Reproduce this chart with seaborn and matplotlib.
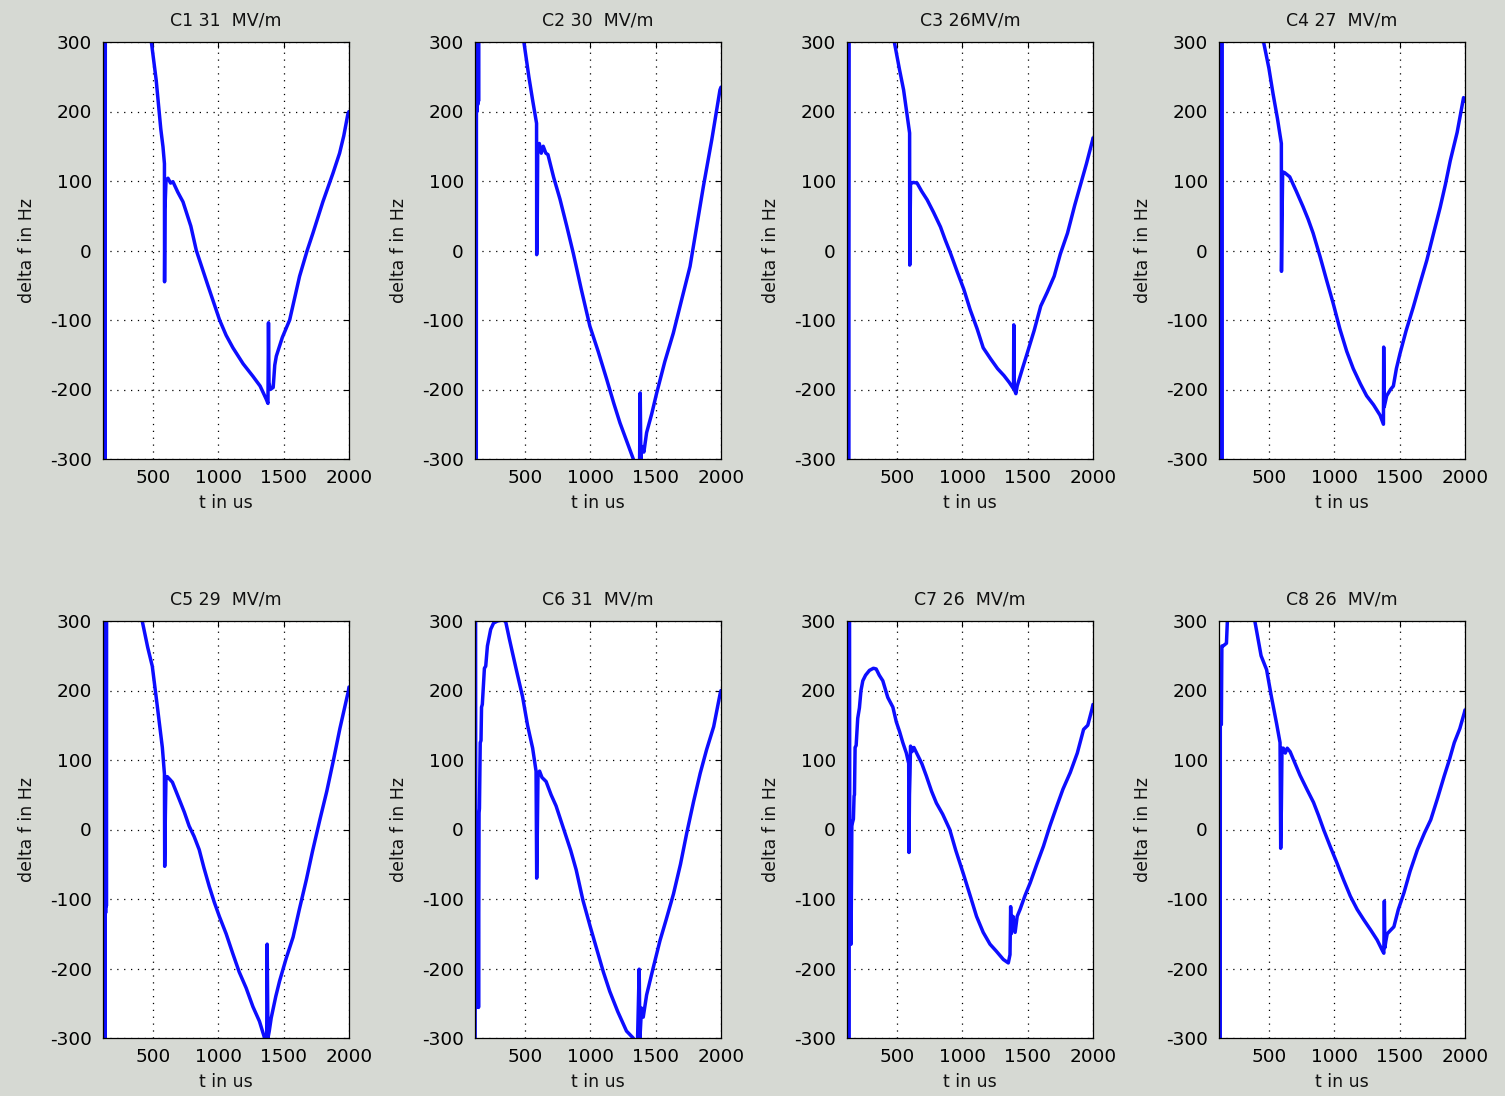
import matplotlib
matplotlib.use("Agg")
import matplotlib.pyplot as plt
import pandas as pd
import seaborn as sns

# Cavity detuning traces, delta f (Hz) versus time (us), one panel per cavity
titles = ["C1 31  MV/m", "C2 30  MV/m", "C3 26MV/m", "C4 27  MV/m",
          "C5 29  MV/m", "C6 31  MV/m", "C7 26  MV/m", "C8 26  MV/m"]

c1_t = [118, 124, 127, 130, 133, 137, 488, 525, 560, 577, 588, 589, 592, 600, 615, 635, 653, 690,
        730, 790, 832, 920, 1010, 1060, 1112, 1190, 1265, 1320, 1367, 1380, 1384, 1388, 1398, 1420,
        1432, 1444, 1490, 1546, 1622, 1680, 1724, 1800, 1877, 1928, 1960, 1992, 2000]
c1_df = [-700, 700, -700, 700, -700, 800, 300, 245, 175, 149, 125, -45, 60, 100, 104, 97, 99, 84,
         70, 35, 0, -50, -100, -122, -140, -163, -181, -195, -214, -220, -104, -190, -200, -197,
         -165, -152, -125, -100, -37, 0, 25, 70, 111, 140, 165, 197, 200]

c2_t = [118, 124, 127, 130, 133, 136, 139, 142, 145, 148, 492, 530, 560, 589, 590, 594, 598, 610,
        625, 640, 660, 676, 720, 768, 820, 870, 930, 997, 1060, 1125, 1180, 1227, 1280, 1329, 1376,
        1382, 1387, 1395, 1410, 1431, 1470, 1508, 1570, 1635, 1700, 1763, 1810, 1865, 1930, 1992,
        2000]
c2_df = [-700, 700, -700, 700, 200, 700, 210, 700, 215, 800, 300, 250, 215, 183, -6, 30, 150, 154,
         140, 150, 140, 138, 105, 74, 35, -4, -55, -109, -145, -185, -220, -248, -275, -300, -325,
         -205, -300, -282, -290, -262, -235, -205, -160, -119, -70, -23, 30, 92, 160, 231, 235]

c3_t = [118, 125, 130, 136, 140, 480, 520, 551, 597, 598, 601, 604, 625, 654, 690, 731, 780, 833,
        870, 910, 960, 1012, 1060, 1114, 1160, 1217, 1270, 1319, 1360, 1392, 1394, 1398, 1410, 1420,
        1460, 1498, 1550, 1600, 1650, 1703, 1750, 1805, 1860, 1908, 1950, 1997, 2000]
c3_df = [-700, 700, -700, 700, 800, 300, 260, 231, 169, -21, 40, 96, 98, 97, 85, 73, 55, 34,
         15, -4, -30, -56, -85, -113, -140, -156, -170, -180, -190, -199, -107, -200, -206, -195,
         -170, -147, -115, -80, -60, -37, -5, 25, 65, 97, 125, 159, 162]

c4_t = [118, 124, 127, 130, 133, 136, 139, 142, 459, 500, 531, 565, 595, 596, 600, 605, 620, 659,
        710, 761, 800, 838, 890, 940, 990, 1043, 1095, 1145, 1200, 1247, 1300, 1350, 1376, 1378,
        1382, 1401, 1430, 1452, 1475, 1503, 1550, 1605, 1655, 1708, 1760, 1810, 1850, 1887, 1940,
        1989, 2000]
c4_df = [-700, 700, -700, 700, -700, 700, -700, 800, 300, 262, 226, 190, 154, -30, 40, 113, 112, 106,
         85, 63, 45, 25, -8, -42, -75, -113, -145, -170, -192, -209, -222, -237, -250, -139,
         -225, -209, -200, -195, -170, -148, -115, -81, -48, -14, 25, 62, 95, 129, 170,
         220, 215]

c5_t = [118, 123, 126, 129, 132, 135, 138, 141, 144, 147, 418, 460, 495, 535, 572, 588, 590, 595,
        600, 610, 630, 649, 700, 740, 777, 815, 854, 890, 931, 970, 1008, 1060, 1110, 1160, 1213,
        1265, 1315, 1354, 1370, 1374, 1380, 1390, 1405, 1440, 1469, 1520, 1572, 1620, 1674, 1720,
        1777, 1830, 1879, 1930, 1995, 2000]
c5_df = [-700, 700, -700, 700, -700, 700, -120, 700, -110, 800, 300, 262, 235, 175, 118, 80, -53, 20,
         76, 76, 72, 68, 44, 25, 5, -10, -29, -55, -82, -105, -125, -150, -178, -205, -228,
         -255, -276, -300, -310, -165, -300, -290, -271, -240, -218, -185, -155, -115, -72, -32,
         14, 55, 98, 145, 199, 205]

c6_t = [118, 121, 124, 127, 131, 134, 137, 141, 145, 149, 152, 158, 164, 168, 174, 190, 200, 213,
        238, 260, 290, 340, 354, 380, 405, 440, 482, 520, 559, 585, 590, 595, 600, 612, 630, 662,
        700, 738, 780, 815, 850, 892, 944, 1000, 1046, 1100, 1149, 1210, 1277, 1328, 1360, 1374,
        1380, 1392, 1405, 1431, 1480, 1533, 1580, 1636, 1690, 1738, 1790, 1841, 1890, 1944, 1995,
        2000]
c6_df = [-700, 700, -100, -256, 20, -200, -90, 15, -256, 24, 30, 125, 128, 176, 180, 232, 235, 264,
         288, 297, 300, 302, 298, 275, 254, 225, 191, 150, 117, 84, -70, 0, 80, 84, 75, 69,
         50, 34, 10, -10, -30, -58, -102, -140, -170, -205, -233, -262, -290, -300, -315, -201,
         -300, -257, -270, -238, -200, -160, -130, -93, -50, -5, 40, 81, 115, 148, 197,
         200]

c7_t = [118, 122, 125, 128, 131, 135, 140, 145, 149, 155, 160, 167, 172, 175, 180, 188, 200, 213,
        225, 239, 260, 290, 320, 341, 365, 392, 430, 469, 495, 520, 545, 572, 590, 592, 596, 600,
        604, 615, 630, 648, 690, 725, 765, 802, 850, 904, 950, 1007, 1060, 1109, 1160, 1212, 1260,
        1314, 1352, 1365, 1370, 1375, 1380, 1388, 1404, 1420, 1442, 1480, 1519, 1570, 1621, 1670,
        1724, 1770, 1826, 1880, 1928, 1960, 1992, 2000]
c7_df = [-700, 700, -700, 700, -700, 700, -165, 10, -165, 5, 10, 15, 48, 50, 118, 121, 160, 175,
         200, 214, 222, 229, 232, 231, 222, 214, 190, 176, 155, 141, 125, 110, 95, -33, 50, 80,
         120, 112, 118, 111, 95, 77, 55, 38, 22, 0, -30, -63, -95, -125, -148, -165, -175,
         -187, -192, -180, -111, -150, -140, -125, -148, -125, -115, -95, -77, -50, -24, 5,
         34, 58, 82, 110, 144, 150, 173, 180]

c8_t = [118, 127, 128, 136, 140, 149, 175, 182, 190, 392, 440, 482, 520, 559, 585, 590, 595, 600,
        610, 625, 640, 662, 700, 738, 790, 841, 880, 918, 970, 1020, 1070, 1123, 1175, 1226, 1280,
        1328, 1370, 1379, 1383, 1387, 1395, 1405, 1430, 1456, 1490, 1533, 1580, 1636, 1690, 1738,
        1790, 1841, 1880, 1918, 1960, 1995, 2000]
c8_df = [-700, -700, 151, 151, 264, 264, 268, 300, 700, 300, 250, 230, 190, 152, 125, -27, 30, 117,
         117, 110, 117, 112, 95, 78, 58, 39, 20, 0, -25, -48, -72, -96, -115, -130, -145,
         -159, -175, -178, -103, -170, -160, -150, -145, -140, -115, -91, -60, -29, -5, 14,
         45, 77, 100, 125, 145, 168, 172]

series = [(c1_t, c1_df), (c2_t, c2_df), (c3_t, c3_df), (c4_t, c4_df),
          (c5_t, c5_df), (c6_t, c6_df), (c7_t, c7_df), (c8_t, c8_df)]

x_ticks = [500, 1000, 1500, 2000]
y_ticks = [-300, -200, -100, 0, 100, 200, 300]

sns.set_theme(style="white")
plt.rcParams["font.family"] = ["DejaVu Sans"]
plt.rcParams["axes.unicode_minus"] = False

bg = "#d6d9d3"
line_blue = "#0d0dff"
W, H = 1505, 1096
fig = plt.figure(figsize=(W / 100, H / 100), dpi=100, facecolor=bg)

col_left = [103, 475, 847, 1219]
row_top = [42, 621]
ax_w, ax_h = 246, 417

for i, (t, df) in enumerate(series):
    r, c = divmod(i, 4)
    left = col_left[c]
    top = row_top[r]
    ax = fig.add_axes([left / W, 1 - (top + ax_h) / H, ax_w / W, ax_h / H])
    ax.set_facecolor("white")
    frame = pd.DataFrame({"t": t, "df": df})
    sns.lineplot(data=frame, x="t", y="df", sort=False, estimator=None,
                 color=line_blue, linewidth=2.5, ax=ax)
    ax.set_xlim(118, 2000)
    ax.set_ylim(-300, 300)
    ax.set_xticks(x_ticks)
    ax.set_yticks(y_ticks)
    ax.grid(True, color="black", linestyle=(0, (1, 4.5)), linewidth=0.9)
    ax.set_axisbelow(True)
    ax.tick_params(direction="in", length=4, width=0.8, top=True, right=True,
                   labelsize=13.3, colors="black")
    ax.tick_params(axis="y", pad=8)
    ax.tick_params(axis="x", pad=7)
    for s in ax.spines.values():
        s.set_color("black")
        s.set_linewidth(0.9)
        s.set_visible(True)
    ax.set_title(titles[i], fontsize=12.5, pad=12, color="#111111")
    ax.set_xlabel("t in us", fontsize=12.5, labelpad=5, color="#111111")
    ax.set_ylabel("delta f in Hz", fontsize=12.5, labelpad=10, color="#111111")

fig.savefig("out.png", dpi=100, facecolor=bg)
